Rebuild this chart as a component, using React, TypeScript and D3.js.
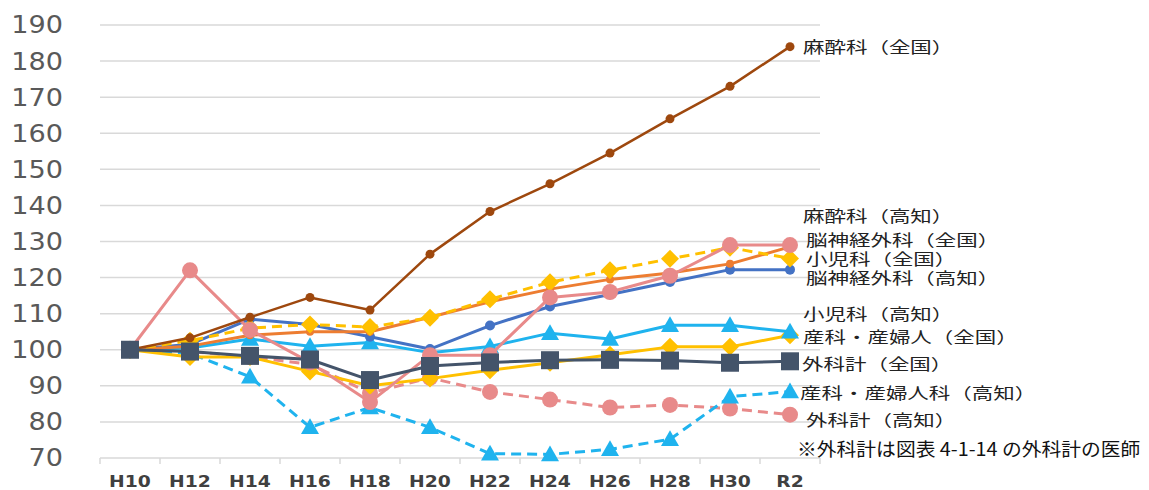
import { useEffect, useRef } from "react";
import * as d3 from "d3";

const categories = ["H10", "H12", "H14", "H16", "H18", "H20", "H22", "H24", "H26", "H28", "H30", "R2"];
const yTicks = [70, 80, 90, 100, 110, 120, 130, 140, 150, 160, 170, 180, 190];

const masuiZenkoku = [100, 103.3, 109, 114.5, 111, 126.5, 138.3, 146, 154.5, 164, 173, 184];
const masuiKochi = [100, 122, 105.5, 96.5, 85.5, 98.5, 98.5, 114.5, 116, 120.5, 129, 129];
const nouZenkoku = [100, 101, 104, 105, 105, 109, 113.3, 116.8, 119.5, 121.3, 123.8, 128.5];
const shouniZenkoku = [100, 102.5, 106, 107, 106.3, 108.9, 114, 118.7, 122, 125.2, 128.3, 125.3];
const nouKochi = [100, 101.5, 108.5, 107, 103.6, 100.2, 106.7, 112, 115.3, 118.8, 122.2, 122.2];
const shouniKochi = [100, 100.5, 103, 101, 102, 99.2, 100.9, 104.6, 103, 106.8, 106.8, 105];
const sankaZenkoku = [100, 98, 98, 94, 90, 92, 94.3, 96.4, 98.6, 100.8, 100.8, 104];
const gekaZenkoku = [100, 99.5, 98.3, 97.3, 91.6, 95.5, 96.5, 97.1, 97.2, 97, 96.4, 96.8];
const sankaKochi = [100, 99, 92.5, 78.5, 84, 78.5, 71.2, 71, 72.4, 75.2, 87, 88.4];
const gekaKochi = [100, 99.5, 98, 96, 88, 92.2, 88.3, 86.2, 84, 84.7, 83.7, 82];

// label names and the value at which each label sits on the right
const labelNames = [
  "麻酔科（全国）",
  "麻酔科（高知）",
  "脳神経外科（全国）",
  "小児科（全国）",
  "脳神経外科（高知）",
  "小児科（高知）",
  "産科・産婦人（全国）",
  "外科計（全国）",
  "産科・産婦人科（高知）",
  "外科計（高知）",
];
const labelValues = [184.2, 137.4, 130.8, 125.5, 120.2, 110.3, 103.9, 96.4, 88.4, 80.9];
const footnote = "※外科計は図表 4-1-14 の外科計の医師";
const footnoteValue = 72.6;

type Marker = "circle" | "diamond" | "triangle" | "square";

// drawing order: back to front
const series: { values: number[]; color: string; dashed: boolean; marker: Marker; size: number; width: number }[] = [
  { values: gekaKochi, color: "#E88A8A", dashed: true, marker: "circle", size: 8, width: 3 },
  { values: sankaKochi, color: "#1FB3EE", dashed: true, marker: "triangle", size: 9, width: 3 },
  { values: sankaZenkoku, color: "#FFC000", dashed: false, marker: "diamond", size: 9, width: 3 },
  { values: shouniKochi, color: "#1FB3EE", dashed: false, marker: "triangle", size: 9, width: 3 },
  { values: nouKochi, color: "#4472C4", dashed: false, marker: "circle", size: 5, width: 3 },
  { values: nouZenkoku, color: "#ED7D31", dashed: false, marker: "circle", size: 4, width: 3 },
  { values: shouniZenkoku, color: "#FFC000", dashed: true, marker: "diamond", size: 9, width: 3 },
  { values: masuiKochi, color: "#E88A8A", dashed: false, marker: "circle", size: 8, width: 3 },
  { values: masuiZenkoku, color: "#9E480E", dashed: false, marker: "circle", size: 4.5, width: 2.5 },
  { values: gekaZenkoku, color: "#44546A", dashed: false, marker: "square", size: 9, width: 3 },
];

const W = 1149;
const H = 490;

export default function App() {
  const svgRef = useRef<SVGSVGElement>(null);

  useEffect(() => {
    const svg = d3.select(svgRef.current);
    svg.selectAll("*").remove();

    const x = d3.scaleBand<string>().domain(categories).range([100, 820]).padding(0);
    const cx = (c: string) => (x(c) as number) + x.bandwidth() / 2;
    const y = d3.scaleLinear().domain([70, 190]).range([458, 25]);

    // gridlines
    svg
      .append("g")
      .selectAll("line")
      .data(yTicks)
      .join("line")
      .attr("x1", 100)
      .attr("x2", 820)
      .attr("y1", (d) => y(d))
      .attr("y2", (d) => y(d))
      .attr("stroke", "#d9d9d9")
      .attr("stroke-width", 1.5);

    // tick marks on x axis at band edges
    const edges = categories.map((c) => x(c) as number).concat([820]);
    svg
      .append("g")
      .selectAll("line")
      .data(edges)
      .join("line")
      .attr("x1", (d) => d)
      .attr("x2", (d) => d)
      .attr("y1", y(70))
      .attr("y2", y(70) + 6)
      .attr("stroke", "#d9d9d9")
      .attr("stroke-width", 1.5);

    // y tick labels
    svg
      .append("g")
      .selectAll("text")
      .data(yTicks)
      .join("text")
      .attr("transform", (d) => `translate(63,${y(d)}) scale(1.13,1)`)
      .attr("text-anchor", "end")
      .attr("dominant-baseline", "central")
      .attr("font-family", "'DejaVu Sans', sans-serif")
      .attr("font-size", 24)
      .attr("fill", "#595959")
      .text((d) => d);

    // x labels
    svg
      .append("g")
      .selectAll("text")
      .data(categories)
      .join("text")
      .attr("transform", (d) => `translate(${cx(d)},482) scale(1.25,1)`)
      .attr("text-anchor", "middle")
      .attr("dominant-baseline", "central")
      .attr("font-family", "'DejaVu Sans', sans-serif")
      .attr("font-weight", "bold")
      .attr("font-size", 15)
      .attr("fill", "#404040")
      .text((d) => d);

    const line = d3
      .line<number>()
      .x((_, i) => cx(categories[i]))
      .y((d) => y(d));

    series.forEach((s) => {
      const g = svg.append("g");
      g.append("path")
        .datum(s.values)
        .attr("fill", "none")
        .attr("stroke", s.color)
        .attr("stroke-width", s.width)
        .attr("stroke-linejoin", "round")
        .attr("stroke-dasharray", s.dashed ? "10,6" : null)
        .attr("d", line);

      const pts = g
        .selectAll("g.pt")
        .data(s.values)
        .join("g")
        .attr("class", "pt")
        .attr("transform", (d, i) => `translate(${cx(categories[i])},${y(d)})`);

      const r = s.size;
      if (s.marker === "circle") {
        pts.append("circle").attr("r", r).attr("fill", s.color);
      } else if (s.marker === "square") {
        pts.append("rect").attr("x", -r).attr("y", -r).attr("width", 2 * r).attr("height", 2 * r).attr("fill", s.color);
      } else if (s.marker === "diamond") {
        pts.append("path").attr("d", `M0,${-r}L${r},0L0,${r}L${-r},0Z`).attr("fill", s.color);
      } else {
        pts.append("path").attr("d", `M0,${-r}L${r},${r * 0.75}L${-r},${r * 0.75}Z`).attr("fill", s.color);
      }
    });

    // right-side labels
    const labelX = [803, 803, 806, 806, 806, 803, 803, 802, 800, 806];
    svg
      .append("g")
      .selectAll("text")
      .data(labelNames)
      .join("text")
      .attr("transform", (d, i) => `translate(${labelX[i]},${y(labelValues[i])}) scale(1.36,1)`)
      .attr("dominant-baseline", "central")
      .attr("font-family", "'Noto Sans CJK JP', sans-serif")
      .attr("font-size", 15.8)
      .attr("fill", "#222")
      .text((d) => d);

    svg
      .append("text")
      .attr("transform", `translate(797,${y(footnoteValue)}) scale(1.07,1)`)
      .attr("dominant-baseline", "central")
      .attr("font-family", "'Noto Sans CJK JP', sans-serif")
      .attr("font-size", 18.5)
      .attr("fill", "#111")
      .text(footnote);
  }, []);

  return (
    <svg
      ref={svgRef}
      width={W}
      height={H}
      style={{ position: "absolute", left: 0, top: 0, background: "#fff", display: "block" }}
    />
  );
}
